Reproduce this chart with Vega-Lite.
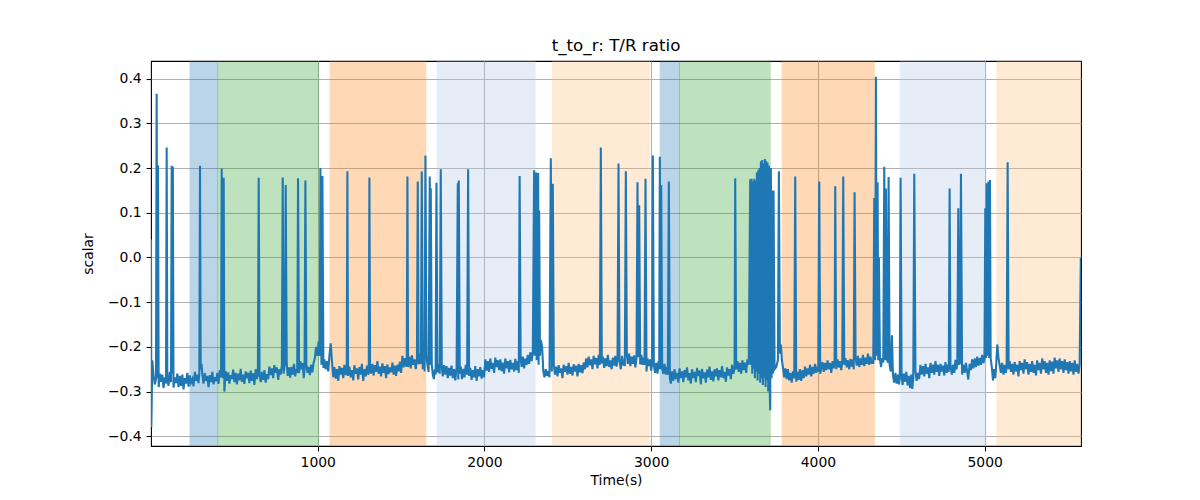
{
  "$schema": "https://vega.github.io/schema/vega-lite/v6.json",
  "width": 930,
  "height": 385,
  "autosize": "none",
  "padding": {"left": 151, "top": 61, "right": 119, "bottom": 54},
  "background": "white",
  "config": {
    "font": "DejaVu Sans",
    "view": {"stroke": "black", "strokeWidth": 1.1},
    "axis": {
      "domain": false,
      "grid": true,
      "gridColor": "#b0b0b0",
      "gridWidth": 1.1,
      "tickColor": "black",
      "tickWidth": 1.1,
      "tickSize": 4.9,
      "labelPadding": 4.9,
      "labelFontSize": 13.9,
      "labelColor": "black",
      "labelFont": "DejaVu Sans",
      "titleFont": "DejaVu Sans",
      "titleFontSize": 13.9,
      "titleFontWeight": "normal",
      "titleColor": "black"
    }
  },
  "title": {"text": "t_to_r: T/R ratio", "fontSize": 16.7, "fontWeight": "normal", "font": "DejaVu Sans", "color": "black", "offset": 6},
  "datasets": {
    "bands": [
      {"start": 234, "end": 400, "kind": "blue"},
      {"start": 400, "end": 1004, "kind": "green"},
      {"start": 1074, "end": 1648, "kind": "orange"},
      {"start": 1716, "end": 2304, "kind": "lightblue"},
      {"start": 2408, "end": 2990, "kind": "lightorange"},
      {"start": 3054, "end": 3170, "kind": "blue"},
      {"start": 3170, "end": 3714, "kind": "green"},
      {"start": 3786, "end": 4338, "kind": "orange"},
      {"start": 4494, "end": 5006, "kind": "lightblue"},
      {"start": 5074, "end": 5578, "kind": "lightorange"}
    ],
    "series": [
      {"t":0,"v":0.04},{"t":2,"v":-0.38},{"t":8,"v":-0.23},{"t":15,"v":-0.263},{"t":23,"v":-0.284},{"t":30,"v":-0.271},{"t":34,"v":0.366},{"t":38,"v":-0.27},{"t":42,"v":0.206},{"t":46,"v":-0.29},{"t":53,"v":-0.26},{"t":60,"v":-0.278},{"t":68,"v":-0.262},{"t":75,"v":-0.292},{"t":83,"v":-0.268},{"t":90,"v":-0.282},{"t":94,"v":0.246},{"t":98,"v":-0.27},{"t":105,"v":-0.287},{"t":113,"v":-0.256},{"t":120,"v":-0.279},{"t":124,"v":0.205},{"t":127,"v":-0.26},{"t":131,"v":0.203},{"t":135,"v":-0.291},{"t":143,"v":-0.268},{"t":150,"v":-0.281},{"t":158,"v":-0.26},{"t":165,"v":-0.29},{"t":173,"v":-0.265},{"t":180,"v":-0.287},{"t":188,"v":-0.262},{"t":195,"v":-0.295},{"t":203,"v":-0.27},{"t":210,"v":-0.282},{"t":218,"v":-0.258},{"t":225,"v":-0.289},{"t":233,"v":-0.264},{"t":240,"v":-0.28},{"t":248,"v":-0.272},
      {"t":255,"v":-0.288},{"t":263,"v":-0.256},{"t":270,"v":-0.276},{"t":278,"v":-0.262},{"t":285,"v":-0.281},{"t":290,"v":-0.26},{"t":294,"v":0.205},{"t":298,"v":-0.25},{"t":303,"v":-0.238},{"t":308,"v":-0.262},{"t":315,"v":-0.282},{"t":323,"v":-0.259},{"t":330,"v":-0.276},{"t":338,"v":-0.265},{"t":345,"v":-0.29},{"t":353,"v":-0.263},{"t":360,"v":-0.279},{"t":368,"v":-0.256},{"t":375,"v":-0.284},{"t":383,"v":-0.268},{"t":390,"v":-0.277},{"t":398,"v":-0.258},
      {"t":405,"v":-0.283},{"t":413,"v":-0.252},{"t":420,"v":-0.268},{"t":424,"v":0.199},{"t":430,"v":-0.27},{"t":436,"v":0.178},{"t":440,"v":-0.3},{"t":448,"v":-0.254},{"t":455,"v":-0.276},{"t":463,"v":-0.257},{"t":470,"v":-0.282},{"t":478,"v":-0.263},{"t":485,"v":-0.272},{"t":493,"v":-0.251},{"t":500,"v":-0.279},{"t":508,"v":-0.258},{"t":515,"v":-0.284},{"t":523,"v":-0.26},{"t":530,"v":-0.275},{"t":538,"v":-0.249},{"t":545,"v":-0.278},{"t":553,"v":-0.262},{"t":560,"v":-0.283},{"t":568,"v":-0.255},{"t":575,"v":-0.27},{"t":583,"v":-0.258},{"t":590,"v":-0.281},{"t":598,"v":-0.253},{"t":605,"v":-0.276},{"t":613,"v":-0.259},{"t":620,"v":-0.285},{"t":628,"v":-0.25},{"t":635,"v":-0.272},{"t":641,"v":-0.26},{"t":646,"v":0.178},{"t":651,"v":-0.262},{"t":658,"v":-0.279},{"t":665,"v":-0.256},{"t":673,"v":-0.274},{"t":680,"v":-0.252},{"t":688,"v":-0.28},{"t":695,"v":-0.261},
      {"t":703,"v":-0.272},{"t":710,"v":-0.244},{"t":718,"v":-0.263},{"t":725,"v":-0.248},{"t":733,"v":-0.27},{"t":740,"v":-0.241},{"t":748,"v":-0.258},{"t":755,"v":-0.246},{"t":763,"v":-0.274},{"t":770,"v":-0.25},{"t":778,"v":-0.262},{"t":785,"v":-0.24},{"t":790,"v":0.179},{"t":795,"v":-0.26},{"t":802,"v":-0.24},{"t":808,"v":0.162},{"t":814,"v":-0.237},{"t":820,"v":-0.265},{"t":828,"v":-0.246},{"t":835,"v":-0.269},{"t":843,"v":-0.245},{"t":850,"v":-0.262},{"t":858,"v":-0.238},{"t":865,"v":-0.266},{"t":872,"v":-0.25},{"t":877,"v":-0.258},{"t":882,"v":0.177},{"t":888,"v":-0.259},{"t":895,"v":-0.232},{"t":903,"v":-0.25},{"t":910,"v":-0.236},{"t":916,"v":-0.27},{"t":921,"v":-0.25},{"t":926,"v":0.172},{"t":932,"v":-0.239},{"t":938,"v":-0.258},{"t":945,"v":-0.245},{"t":953,"v":-0.263},{"t":960,"v":-0.24},{"t":968,"v":-0.257},{"t":975,"v":-0.236},
      {"t":983,"v":-0.225},{"t":990,"v":-0.2},{"t":998,"v":-0.22},{"t":1005,"v":-0.188},{"t":1012,"v":-0.22},{"t":1016,"v":0.2},{"t":1022,"v":-0.24},{"t":1028,"v":0.182},{"t":1034,"v":-0.247},{"t":1040,"v":-0.228},{"t":1048,"v":-0.25},{"t":1055,"v":-0.232},{"t":1063,"v":-0.255},{"t":1070,"v":-0.22},{"t":1078,"v":-0.192},{"t":1085,"v":-0.23},
      {"t":1093,"v":-0.268},{"t":1100,"v":-0.245},{"t":1108,"v":-0.271},{"t":1115,"v":-0.25},{"t":1123,"v":-0.276},{"t":1130,"v":-0.243},{"t":1138,"v":-0.262},{"t":1145,"v":-0.247},{"t":1153,"v":-0.27},{"t":1160,"v":-0.24},{"t":1168,"v":-0.263},{"t":1174,"v":-0.25},{"t":1178,"v":0.193},{"t":1182,"v":-0.265},{"t":1190,"v":-0.244},{"t":1198,"v":-0.268},{"t":1205,"v":-0.252},{"t":1213,"v":-0.275},{"t":1220,"v":-0.241},{"t":1228,"v":-0.26},{"t":1235,"v":-0.248},{"t":1243,"v":-0.273},{"t":1250,"v":-0.245},{"t":1258,"v":-0.262},{"t":1265,"v":-0.238},{"t":1273,"v":-0.276},{"t":1280,"v":-0.25},{"t":1288,"v":-0.266},{"t":1295,"v":-0.242},
      {"t":1303,"v":-0.262},{"t":1306,"v":-0.258},{"t":1310,"v":0.179},{"t":1314,"v":-0.244},{"t":1320,"v":-0.26},{"t":1328,"v":-0.238},{"t":1335,"v":-0.264},{"t":1343,"v":-0.241},{"t":1350,"v":-0.256},{"t":1358,"v":-0.232},{"t":1365,"v":-0.26},{"t":1373,"v":-0.244},{"t":1380,"v":-0.266},{"t":1388,"v":-0.237},{"t":1395,"v":-0.258},{"t":1403,"v":-0.243},{"t":1410,"v":-0.27},{"t":1418,"v":-0.239},{"t":1425,"v":-0.261},{"t":1433,"v":-0.246},{"t":1440,"v":-0.257},{"t":1448,"v":-0.235},{"t":1455,"v":-0.262},{"t":1463,"v":-0.242},{"t":1470,"v":-0.265},{"t":1478,"v":-0.24},{"t":1485,"v":-0.255},{"t":1493,"v":-0.233},{"t":1500,"v":-0.258},
      {"t":1508,"v":-0.22},{"t":1515,"v":-0.246},{"t":1523,"v":-0.225},{"t":1530,"v":-0.244},{"t":1534,"v":-0.23},{"t":1538,"v":0.181},{"t":1542,"v":-0.245},{"t":1550,"v":-0.222},{"t":1558,"v":-0.248},{"t":1565,"v":-0.219},{"t":1573,"v":-0.24},{"t":1580,"v":-0.228},{"t":1588,"v":-0.25},{"t":1595,"v":-0.225},{"t":1600,"v":0.17},{"t":1605,"v":-0.239},{"t":1612,"v":-0.215},{"t":1619,"v":-0.238},{"t":1624,"v":0.192},{"t":1630,"v":-0.25},{"t":1636,"v":-0.222},{"t":1641,"v":-0.255},{"t":1646,"v":0.228},{"t":1652,"v":-0.219},{"t":1658,"v":-0.24},
      {"t":1665,"v":-0.256},{"t":1672,"v":0.181},{"t":1675,"v":-0.24},{"t":1678,"v":0.155},{"t":1684,"v":-0.239},{"t":1690,"v":-0.262},{"t":1697,"v":-0.272},{"t":1702,"v":-0.25},{"t":1707,"v":-0.262},{"t":1712,"v":0.167},{"t":1718,"v":-0.257},{"t":1725,"v":-0.238},{"t":1732,"v":-0.26},{"t":1738,"v":0.197},{"t":1744,"v":-0.245},{"t":1750,"v":-0.266},{"t":1758,"v":-0.241},{"t":1765,"v":-0.262},{"t":1773,"v":-0.243},{"t":1780,"v":-0.27},{"t":1788,"v":-0.247},{"t":1795,"v":-0.264},
      {"t":1803,"v":-0.242},{"t":1810,"v":-0.27},{"t":1818,"v":-0.25},{"t":1825,"v":-0.275},{"t":1833,"v":-0.246},{"t":1840,"v":0.166},{"t":1843,"v":-0.273},{"t":1846,"v":0.172},{"t":1852,"v":-0.26},{"t":1858,"v":-0.244},{"t":1865,"v":-0.272},{"t":1873,"v":-0.249},{"t":1880,"v":-0.268},{"t":1888,"v":-0.24},{"t":1896,"v":-0.262},{"t":1902,"v":0.197},{"t":1908,"v":-0.265},{"t":1915,"v":-0.247},{"t":1923,"v":-0.274},{"t":1930,"v":-0.252},{"t":1938,"v":-0.268},{"t":1945,"v":-0.243},{"t":1953,"v":-0.276},{"t":1960,"v":-0.25},{"t":1968,"v":-0.266},{"t":1975,"v":-0.245},{"t":1983,"v":-0.271},{"t":1990,"v":-0.252},{"t":1998,"v":-0.268},
      {"t":2005,"v":-0.228},{"t":2013,"v":-0.253},{"t":2020,"v":-0.232},{"t":2028,"v":-0.256},{"t":2035,"v":-0.226},{"t":2043,"v":-0.249},{"t":2050,"v":-0.236},{"t":2058,"v":-0.258},{"t":2065,"v":-0.224},{"t":2073,"v":-0.245},{"t":2080,"v":-0.23},{"t":2088,"v":-0.252},{"t":2095,"v":-0.228},{"t":2103,"v":-0.254},{"t":2110,"v":-0.235},{"t":2118,"v":-0.26},{"t":2125,"v":-0.226},{"t":2133,"v":-0.248},{"t":2140,"v":-0.232},{"t":2148,"v":-0.257},{"t":2155,"v":-0.229},{"t":2163,"v":-0.25},{"t":2170,"v":-0.236},{"t":2178,"v":-0.255},{"t":2185,"v":-0.227},{"t":2193,"v":-0.252},{"t":2200,"v":-0.232},{"t":2206,"v":-0.258},{"t":2211,"v":0.182},{"t":2217,"v":-0.226},{"t":2223,"v":-0.245},{"t":2230,"v":-0.222},{"t":2238,"v":-0.248},{"t":2245,"v":-0.226},{"t":2253,"v":-0.24},
      {"t":2260,"v":-0.218},{"t":2268,"v":-0.238},{"t":2275,"v":-0.212},{"t":2283,"v":-0.232},{"t":2290,"v":-0.21},{"t":2298,"v":0.195},{"t":2301,"v":-0.22},{"t":2304,"v":0.15},{"t":2307,"v":-0.21},{"t":2310,"v":0.19},{"t":2313,"v":-0.23},{"t":2316,"v":0.13},{"t":2319,"v":-0.215},{"t":2322,"v":0.189},{"t":2325,"v":-0.24},{"t":2328,"v":0.105},{"t":2333,"v":-0.22},{"t":2338,"v":-0.185},{"t":2346,"v":-0.2},
      {"t":2353,"v":-0.255},{"t":2360,"v":-0.268},{"t":2368,"v":-0.25},{"t":2375,"v":-0.265},{"t":2383,"v":-0.254},{"t":2390,"v":-0.268},{"t":2398,"v":0.222},{"t":2404,"v":-0.255},{"t":2410,"v":0.165},{"t":2416,"v":-0.24},
      {"t":2423,"v":-0.262},{"t":2430,"v":-0.244},{"t":2438,"v":-0.266},{"t":2445,"v":-0.241},{"t":2453,"v":-0.258},{"t":2460,"v":-0.248},{"t":2468,"v":-0.27},{"t":2475,"v":-0.24},{"t":2483,"v":-0.256},{"t":2490,"v":-0.243},{"t":2498,"v":-0.262},{"t":2505,"v":-0.236},{"t":2513,"v":-0.26},{"t":2520,"v":-0.245},{"t":2528,"v":-0.264},{"t":2535,"v":-0.239},{"t":2543,"v":-0.255},{"t":2550,"v":-0.242},{"t":2558,"v":-0.266},{"t":2565,"v":-0.238},{"t":2573,"v":-0.257},{"t":2580,"v":-0.241},{"t":2588,"v":-0.259},{"t":2595,"v":-0.235},
      {"t":2603,"v":-0.25},{"t":2610,"v":-0.226},{"t":2618,"v":-0.246},{"t":2625,"v":-0.222},{"t":2633,"v":-0.241},{"t":2640,"v":-0.228},{"t":2648,"v":-0.25},{"t":2655,"v":-0.22},{"t":2663,"v":-0.239},{"t":2670,"v":-0.225},{"t":2678,"v":-0.248},{"t":2685,"v":-0.218},{"t":2692,"v":-0.24},{"t":2698,"v":0.246},{"t":2704,"v":-0.237},{"t":2710,"v":-0.222},{"t":2718,"v":-0.247},{"t":2725,"v":-0.226},{"t":2733,"v":-0.243},{"t":2740,"v":-0.218},{"t":2748,"v":-0.245},{"t":2755,"v":-0.23},{"t":2763,"v":-0.25},{"t":2770,"v":-0.224},{"t":2778,"v":-0.242},{"t":2785,"v":-0.22},{"t":2792,"v":-0.244},{"t":2798,"v":-0.23},{"t":2804,"v":0.21},{"t":2810,"v":-0.231},{"t":2818,"v":-0.25},{"t":2825,"v":-0.22},{"t":2833,"v":-0.24},{"t":2842,"v":-0.241},{"t":2848,"v":0.193},{"t":2854,"v":-0.217},{"t":2860,"v":-0.238},{"t":2868,"v":-0.215},{"t":2875,"v":-0.243},{"t":2883,"v":-0.222},{"t":2890,"v":-0.238},{"t":2898,"v":-0.219},{"t":2905,"v":-0.246},{"t":2912,"v":-0.225},{"t":2918,"v":0.168},{"t":2923,"v":-0.223},{"t":2928,"v":0.117},{"t":2934,"v":-0.239},{"t":2941,"v":-0.218},{"t":2948,"v":-0.24},{"t":2955,"v":-0.224},{"t":2960,"v":-0.24},{"t":2966,"v":0.176},{"t":2972,"v":-0.255},{"t":2978,"v":-0.226},{"t":2985,"v":-0.243},
      {"t":2993,"v":-0.228},{"t":3000,"v":-0.253},{"t":3005,"v":-0.24},{"t":3010,"v":0.228},{"t":3016,"v":-0.239},{"t":3023,"v":-0.258},{"t":3030,"v":-0.236},{"t":3038,"v":-0.26},{"t":3044,"v":-0.232},{"t":3048,"v":-0.25},{"t":3052,"v":0.225},{"t":3056,"v":-0.25},{"t":3060,"v":0.162},{"t":3066,"v":-0.247},{"t":3073,"v":-0.26},{"t":3080,"v":-0.238},{"t":3088,"v":-0.262},{"t":3095,"v":-0.245},{"t":3100,"v":-0.262},{"t":3106,"v":0.17},{"t":3112,"v":-0.27},
      {"t":3118,"v":-0.282},{"t":3125,"v":-0.255},{"t":3133,"v":-0.276},{"t":3140,"v":-0.25},{"t":3148,"v":-0.272},{"t":3155,"v":-0.258},{"t":3163,"v":-0.28},{"t":3170,"v":-0.248},{"t":3178,"v":-0.27},{"t":3185,"v":-0.255},{"t":3193,"v":-0.279},{"t":3200,"v":-0.252},{"t":3208,"v":-0.268},{"t":3215,"v":-0.246},{"t":3223,"v":-0.275},{"t":3230,"v":-0.259},{"t":3238,"v":-0.282},{"t":3245,"v":-0.25},{"t":3253,"v":-0.27},{"t":3260,"v":-0.256},{"t":3268,"v":-0.279},{"t":3275,"v":-0.247},{"t":3283,"v":-0.265},{"t":3290,"v":-0.253},{"t":3298,"v":-0.284},{"t":3305,"v":-0.249},{"t":3313,"v":-0.27},{"t":3320,"v":-0.257},{"t":3328,"v":-0.28},{"t":3335,"v":-0.251},{"t":3343,"v":-0.268},{"t":3350,"v":-0.244},{"t":3358,"v":-0.274},{"t":3365,"v":-0.255},{"t":3373,"v":-0.277},{"t":3380,"v":-0.25},{"t":3388,"v":-0.266},{"t":3395,"v":-0.248},{"t":3403,"v":-0.275},{"t":3410,"v":-0.252},{"t":3418,"v":-0.268},{"t":3425,"v":-0.243},{"t":3433,"v":-0.27},{"t":3440,"v":-0.256},{"t":3448,"v":-0.278},{"t":3455,"v":-0.246},{"t":3463,"v":-0.264},{"t":3470,"v":-0.25},{"t":3478,"v":-0.272},{"t":3485,"v":-0.24},{"t":3493,"v":-0.26},{"t":3500,"v":-0.25},{"t":3504,"v":0.177},{"t":3510,"v":-0.25},
      {"t":3517,"v":-0.232},{"t":3525,"v":-0.256},{"t":3532,"v":-0.236},{"t":3540,"v":-0.26},{"t":3547,"v":-0.23},{"t":3555,"v":-0.252},{"t":3562,"v":-0.235},{"t":3570,"v":-0.258},{"t":3577,"v":-0.228},{"t":3585,"v":-0.24},
      {"t":3594,"v":0.175},{"t":3598,"v":-0.24},{"t":3602,"v":0.176},{"t":3606,"v":-0.26},{"t":3610,"v":0.17},{"t":3614,"v":-0.25},{"t":3618,"v":0.176},{"t":3622,"v":-0.27},{"t":3626,"v":0.172},{"t":3630,"v":-0.255},{"t":3634,"v":0.19},{"t":3638,"v":-0.275},{"t":3642,"v":0.195},{"t":3646,"v":-0.26},{"t":3650,"v":0.2},{"t":3654,"v":-0.28},{"t":3658,"v":0.215},{"t":3662,"v":-0.27},{"t":3666,"v":0.218},{"t":3670,"v":-0.285},{"t":3674,"v":0.21},{"t":3678,"v":-0.27},{"t":3682,"v":0.22},{"t":3686,"v":-0.29},{"t":3690,"v":0.216},{"t":3694,"v":-0.275},{"t":3698,"v":0.212},{"t":3702,"v":-0.3},{"t":3706,"v":0.205},{"t":3710,"v":-0.28},{"t":3714,"v":-0.342},{"t":3718,"v":0.2},{"t":3722,"v":-0.27},{"t":3726,"v":0.15},{"t":3730,"v":-0.26},{"t":3734,"v":0.15},{"t":3740,"v":-0.25},
      {"t":3750,"v":-0.245},{"t":3760,"v":-0.23},{"t":3766,"v":0.193},{"t":3772,"v":-0.215},{"t":3778,"v":-0.195},{"t":3784,"v":-0.23},
      {"t":3790,"v":-0.245},{"t":3798,"v":-0.268},{"t":3805,"v":-0.248},{"t":3813,"v":-0.272},{"t":3820,"v":-0.25},{"t":3828,"v":-0.275},{"t":3835,"v":-0.258},{"t":3843,"v":-0.28},{"t":3850,"v":-0.255},{"t":3858,"v":-0.27},{"t":3864,"v":0.181},{"t":3870,"v":-0.278},{"t":3877,"v":-0.256},{"t":3885,"v":-0.274},{"t":3892,"v":-0.25},{"t":3900,"v":-0.276},{"t":3908,"v":-0.252},{"t":3915,"v":-0.27},{"t":3923,"v":-0.244},{"t":3930,"v":-0.266},{"t":3938,"v":-0.248},{"t":3945,"v":-0.262},{"t":3953,"v":-0.24},{"t":3960,"v":-0.266},{"t":3968,"v":-0.245},{"t":3975,"v":-0.26},{"t":3983,"v":-0.238},{"t":3990,"v":-0.258},{"t":3996,"v":-0.244},{"t":4002,"v":-0.255},{"t":4008,"v":0.17},{"t":4014,"v":-0.26},
      {"t":4020,"v":-0.248},{"t":4028,"v":-0.234},{"t":4035,"v":-0.256},{"t":4043,"v":-0.236},{"t":4050,"v":-0.252},{"t":4058,"v":-0.23},{"t":4065,"v":-0.25},{"t":4073,"v":-0.236},{"t":4080,"v":-0.258},{"t":4088,"v":-0.232},{"t":4095,"v":-0.248},{"t":4100,"v":-0.235},{"t":4104,"v":0.159},{"t":4110,"v":-0.25},{"t":4118,"v":-0.228},{"t":4125,"v":-0.246},{"t":4133,"v":-0.232},{"t":4140,"v":-0.252},{"t":4146,"v":-0.235},{"t":4152,"v":0.181},{"t":4158,"v":-0.24},{"t":4165,"v":-0.225},{"t":4173,"v":-0.246},{"t":4180,"v":-0.23},{"t":4188,"v":-0.25},{"t":4195,"v":-0.227},{"t":4203,"v":-0.244},{"t":4210,"v":-0.228},{"t":4215,"v":-0.25},{"t":4220,"v":0.146},{"t":4226,"v":-0.224},{"t":4233,"v":-0.242},{"t":4240,"v":-0.22},{"t":4248,"v":-0.245},{"t":4255,"v":-0.226},{"t":4263,"v":-0.24},{"t":4270,"v":-0.218},{"t":4278,"v":-0.243},{"t":4285,"v":-0.224},{"t":4293,"v":-0.238},{"t":4300,"v":-0.215},{"t":4308,"v":-0.24},{"t":4315,"v":-0.222},{"t":4323,"v":-0.236},{"t":4332,"v":-0.236},
      {"t":4338,"v":0.133},{"t":4343,"v":-0.23},{"t":4348,"v":0.404},{"t":4353,"v":-0.22},{"t":4358,"v":0.168},{"t":4362,"v":-0.23},{"t":4366,"v":0.0},{"t":4372,"v":-0.228},{"t":4379,"v":-0.245},{"t":4385,"v":-0.225},{"t":4392,"v":-0.235},{"t":4398,"v":0.203},{"t":4403,"v":-0.23},{"t":4408,"v":0.154},{"t":4414,"v":-0.225},{"t":4419,"v":-0.235},{"t":4424,"v":0.18},{"t":4430,"v":-0.24},{"t":4437,"v":-0.255},{"t":4444,"v":-0.174},
      {"t":4450,"v":-0.262},{"t":4457,"v":-0.28},{"t":4465,"v":-0.258},{"t":4472,"v":-0.282},{"t":4480,"v":-0.262},{"t":4486,"v":-0.284},{"t":4491,"v":-0.27},{"t":4496,"v":0.178},{"t":4502,"v":-0.265},{"t":4508,"v":-0.285},{"t":4515,"v":-0.26},{"t":4523,"v":-0.278},{"t":4530,"v":-0.256},{"t":4538,"v":-0.286},{"t":4545,"v":-0.265},{"t":4553,"v":-0.292},{"t":4560,"v":-0.262},{"t":4566,"v":-0.294},{"t":4572,"v":-0.27},{"t":4578,"v":0.187},{"t":4585,"v":-0.255},{"t":4592,"v":-0.276},{"t":4600,"v":-0.258},
      {"t":4607,"v":-0.272},{"t":4615,"v":-0.24},{"t":4622,"v":-0.262},{"t":4630,"v":-0.243},{"t":4638,"v":-0.266},{"t":4645,"v":-0.238},{"t":4653,"v":-0.26},{"t":4660,"v":-0.246},{"t":4668,"v":-0.27},{"t":4675,"v":-0.236},{"t":4683,"v":-0.258},{"t":4690,"v":-0.24},{"t":4698,"v":-0.262},{"t":4705,"v":-0.232},{"t":4713,"v":-0.256},{"t":4720,"v":-0.24},{"t":4728,"v":-0.265},{"t":4735,"v":-0.238},{"t":4743,"v":-0.255},{"t":4750,"v":-0.242},{"t":4758,"v":-0.264},{"t":4765,"v":-0.234},{"t":4773,"v":-0.258},{"t":4780,"v":-0.24},{"t":4785,"v":-0.256},{"t":4790,"v":0.154},{"t":4795,"v":-0.242},{"t":4803,"v":-0.262},{"t":4810,"v":-0.24},{"t":4818,"v":-0.258},{"t":4825,"v":-0.229},{"t":4831,"v":-0.25},{"t":4836,"v":-0.238},{"t":4842,"v":0.11},{"t":4848,"v":-0.24},{"t":4852,"v":-0.235},{"t":4858,"v":0.187},{"t":4865,"v":-0.262},{"t":4872,"v":-0.24},{"t":4880,"v":-0.258},{"t":4888,"v":-0.236},{"t":4895,"v":-0.255},{"t":4902,"v":-0.273},{"t":4910,"v":-0.238},{"t":4918,"v":-0.252},{"t":4925,"v":-0.228},{"t":4933,"v":-0.248},{"t":4940,"v":-0.226},{"t":4948,"v":-0.245},{"t":4955,"v":-0.222},{"t":4963,"v":-0.242},{"t":4970,"v":-0.225},{"t":4978,"v":-0.24},{"t":4985,"v":-0.218},{"t":4993,"v":-0.236},{"t":4999,"v":-0.225},
      {"t":5004,"v":0.11},{"t":5008,"v":-0.225},{"t":5012,"v":0.166},{"t":5017,"v":-0.22},{"t":5022,"v":0.17},{"t":5027,"v":-0.225},{"t":5032,"v":0.173},{"t":5036,"v":-0.225},{"t":5043,"v":-0.245},{"t":5050,"v":-0.275},{"t":5057,"v":-0.25},{"t":5064,"v":-0.27},{"t":5070,"v":-0.235},{"t":5076,"v":-0.195},{"t":5083,"v":-0.225},{"t":5090,"v":-0.24},
      {"t":5098,"v":-0.258},{"t":5105,"v":-0.236},{"t":5113,"v":-0.262},{"t":5120,"v":-0.24},{"t":5127,"v":-0.258},{"t":5132,"v":-0.245},{"t":5138,"v":0.213},{"t":5144,"v":-0.25},{"t":5150,"v":-0.232},{"t":5158,"v":-0.256},{"t":5165,"v":-0.238},{"t":5173,"v":-0.262},{"t":5180,"v":-0.234},{"t":5188,"v":-0.255},{"t":5195,"v":-0.24},{"t":5203,"v":-0.266},{"t":5210,"v":-0.232},{"t":5218,"v":-0.252},{"t":5225,"v":-0.236},{"t":5233,"v":-0.26},{"t":5240,"v":-0.228},{"t":5248,"v":-0.25},{"t":5255,"v":-0.234},{"t":5263,"v":-0.262},{"t":5270,"v":-0.238},{"t":5278,"v":-0.256},{"t":5285,"v":-0.232},{"t":5293,"v":-0.258},{"t":5300,"v":-0.24},{"t":5308,"v":-0.264},{"t":5315,"v":-0.23},{"t":5323,"v":-0.252},{"t":5330,"v":-0.236},{"t":5338,"v":-0.26},{"t":5345,"v":-0.226},{"t":5353,"v":-0.25},{"t":5360,"v":-0.232},{"t":5368,"v":-0.258},{"t":5375,"v":-0.236},{"t":5383,"v":-0.262},{"t":5390,"v":-0.23},{"t":5398,"v":-0.254},{"t":5405,"v":-0.233},{"t":5413,"v":-0.26},{"t":5420,"v":-0.224},{"t":5428,"v":-0.248},{"t":5435,"v":-0.23},{"t":5443,"v":-0.256},{"t":5450,"v":-0.226},{"t":5458,"v":-0.25},{"t":5465,"v":-0.232},{"t":5473,"v":-0.258},{"t":5480,"v":-0.228},{"t":5488,"v":-0.252},{"t":5495,"v":-0.234},{"t":5503,"v":-0.26},{"t":5510,"v":-0.232},{"t":5518,"v":-0.255},{"t":5525,"v":-0.236},{"t":5533,"v":-0.262},{"t":5540,"v":-0.23},{"t":5548,"v":-0.256},{"t":5555,"v":-0.238},{"t":5563,"v":-0.26},{"t":5570,"v":-0.24},{"t":5577,"v":0.0}
    ]
  },
  "layer": [
    {
      "data": {"name": "bands"},
      "mark": {"type": "rect", "opacity": 0.3, "strokeWidth": 1, "clip": true},
      "encoding": {
        "x": {
          "field": "start",
          "type": "quantitative",
          "scale": {"domain": [0, 5578], "nice": false, "zero": false},
          "axis": {"values": [1000, 2000, 3000, 4000, 5000], "format": "d", "title": "Time(s)", "titlePadding": 4}
        },
        "x2": {"field": "end"},
        "color": {
          "field": "kind",
          "type": "nominal",
          "scale": {
            "domain": ["blue", "green", "orange", "lightblue", "lightorange"],
            "range": ["#1f77b4", "#2ca02c", "#ff7f0e", "#aec7e8", "#ffbb78"]
          },
          "legend": null
        },
        "stroke": {
          "field": "kind",
          "type": "nominal",
          "scale": {
            "domain": ["blue", "green", "orange", "lightblue", "lightorange"],
            "range": ["#1f77b4", "#2ca02c", "#ff7f0e", "#aec7e8", "#ffbb78"]
          },
          "legend": null
        }
      }
    },
    {
      "data": {"name": "series"},
      "mark": {"type": "line", "color": "#1f77b4", "strokeWidth": 2.08, "clip": true},
      "encoding": {
        "x": {"field": "t", "type": "quantitative"},
        "y": {
          "field": "v",
          "type": "quantitative",
          "scale": {"domain": [-0.4217, 0.4394], "nice": false, "zero": false},
          "axis": {"values": [-0.4, -0.3, -0.2, -0.1, 0, 0.1, 0.2, 0.3, 0.4], "format": ".1f", "title": "scalar", "titlePadding": 12}
        }
      }
    }
  ]
}
